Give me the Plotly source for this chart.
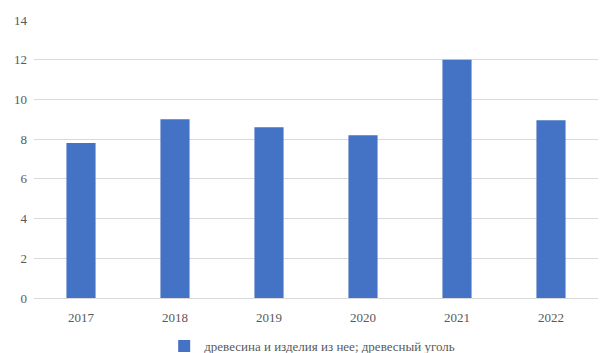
import plotly.graph_objects as go

years = ["2017", "2018", "2019", "2020", "2021", "2022"]
values = [7.8, 9.0, 8.6, 8.2, 12.0, 8.95]
series_name = "древесина и изделия из нее; древесный уголь"
y_ticks = [0, 2, 4, 6, 8, 10, 12, 14]

fig = go.Figure()
fig.add_trace(go.Bar(x=years, y=values, name=series_name,
                     marker=dict(color="#4472C4", line=dict(width=0))))

fig.update_layout(
    width=605, height=353,
    margin=dict(l=34, r=7, t=20, b=55, autoexpand=False),
    paper_bgcolor="white", plot_bgcolor="white",
    bargap=0.69,
    showlegend=True,
    font=dict(family="Liberation Serif", size=13, color="#595959"),
    legend=dict(orientation="h", xref="container", x=0.516, xanchor="center",
                yref="container", y=0.02, yanchor="middle",
                font=dict(family="Liberation Serif", size=13, color="#595959"),
                itemwidth=30),
    xaxis=dict(type="category", showgrid=False, showline=False, ticks="",
               ticklabelstandoff=10,
               tickfont=dict(size=13, color="#595959")),
    yaxis=dict(range=[0, 14], tickvals=y_ticks, showgrid=True, gridcolor="#d9d9d9",
               gridwidth=1, zeroline=True, zerolinecolor="#d9d9d9", zerolinewidth=1,
               showline=False, ticks="", ticklabelstandoff=6,
               tickfont=dict(size=13, color="#595959")),
)

fig.write_html("out.html", config={"displayModeBar": False},
               post_script="document.body.style.margin='0';")
